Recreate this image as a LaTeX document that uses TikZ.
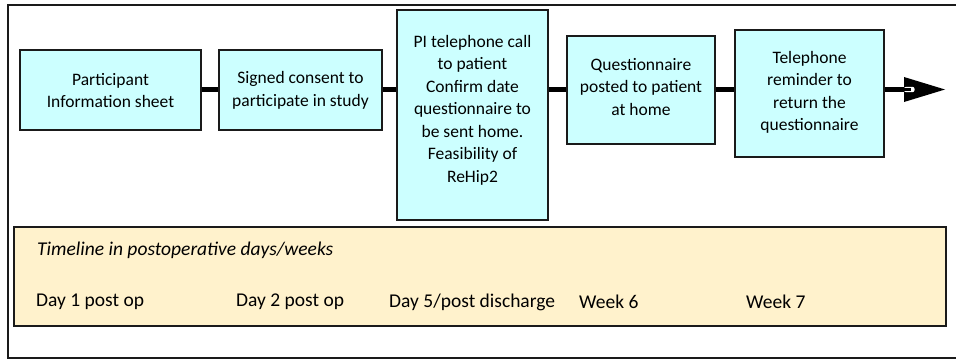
\documentclass[tikz,border=0pt]{standalone}
\usepackage{fontspec}
\setmainfont{Carlito}
\definecolor{boxfill}{HTML}{CCFFFF}
\definecolor{tlfill}{HTML}{FFF2CC}
\definecolor{edge}{HTML}{1A1A1A}
\begin{document}
\begin{tikzpicture}[x=1pt,y=-1pt,
  every node/.style={font=\fontsize{17.5pt}{22.5pt}\selectfont},
  stagebox/.style={draw=edge, line width=1.3pt, fill=boxfill, inner sep=0pt},
  txt/.style={align=center, inner sep=0pt},
  conn/.style={line width=4.5pt, black},
  lbl/.style={anchor=west, inner sep=0pt, font=\fontsize{19.5pt}{23pt}\selectfont}]
\useasboundingbox (0,0) rectangle (956,361);
\draw[edge, line width=1.3pt] (957,5) -- (8,5) -- (8,358) -- (957,358);
% timeline band
\node[draw=edge, line width=1.3pt, fill=tlfill, minimum width=932pt, minimum height=99pt, inner sep=0pt] (tl) at (480,276.5) {};
\node[lbl, font=\fontsize{19.5pt}{23pt}\selectfont\itshape] (tlt) at (37,250) {Timeline in postoperative days/weeks};
\node[lbl] (d1) at (36,302) {Day 1 post op};
\node[lbl] (d2) at (236,302) {Day 2 post op};
\node[lbl] (d5) at (389,302) {Day 5/post discharge};
\node[lbl] (w6) at (579,302) {Week 6};
\node[lbl] (w7) at (746,302) {Week 7};
\coordinate (ae) at (905,89.5);
% boxes
\node[stagebox, minimum width=181pt, minimum height=80pt] (b1) at (110.5,90) {};
\node[stagebox, minimum width=163pt, minimum height=80pt] (b2) at (300.5,90) {};
\node[stagebox, minimum width=151pt, minimum height=210pt] (b3) at (472.5,115) {};
\node[stagebox, minimum width=148pt, minimum height=108pt] (b4) at (641,90) {};
\node[stagebox, minimum width=149pt, minimum height=127pt] (b5) at (809.5,93.5) {};
\draw[conn] (b1.east |- 0,89.5) -- (b2.west |- 0,89.5);
\draw[conn] (b2.east |- 0,89.5) -- (b3.west |- 0,89.5);
\draw[conn] (b3.east |- 0,89.5) -- (b4.west |- 0,89.5);
\draw[conn] (b4.east |- 0,89.5) -- (b5.west |- 0,89.5);
\draw[conn] (b5.east |- 0,89.5) -- (ae);
\fill[black] (904,77) -- (945,89.5) -- (904,102) -- cycle;
\fill[white, rounded corners=2pt] (904,86.8) rectangle (914.5,92.2);
\fill[black] (904,88.3) rectangle (911,90.7);
% texts
\node[txt] (t1) at (110.5,90.5) {Participant\\Information sheet};
\node[txt] (t2) at (300.5,90.5) {Signed consent to\\participate in study};
\node[txt] (t3) at (472.5,110) {PI telephone call\\to patient\\Confirm date\\questionnaire to\\be sent home.\\Feasibility of\\ReHip2};
\node[txt] (t4) at (641,87) {Questionnaire\\posted to patient\\at home};
\node[txt] (t5) at (809.5,92.5) {Telephone\\reminder to\\return the\\questionnaire};
\end{tikzpicture}
\end{document}
